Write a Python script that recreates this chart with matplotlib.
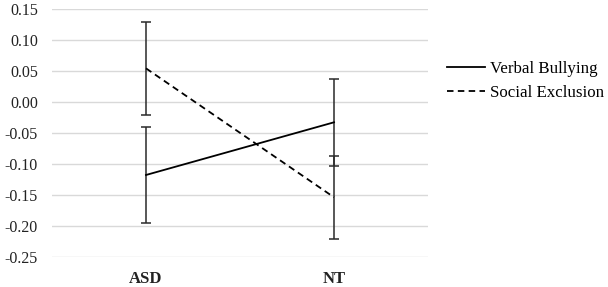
import numpy as np
from matplotlib import pyplot as plt
from matplotlib.lines import Line2D

# data
groups = ["ASD", "NT"]
verbal_bullying = np.array([-0.117, -0.032])
verbal_err = np.array([0.077, 0.070])
social_exclusion = np.array([0.055, -0.153])
social_err = np.array([0.075, 0.067])
yticks = np.round(np.arange(-0.25, 0.151, 0.05), 2)

plt.rcParams['font.family'] = ['Liberation Serif', 'DejaVu Serif']

fig = plt.figure(figsize=(6.08, 2.87), dpi=100)
ax = fig.add_axes([0.0855, 0.103, 0.6185, 0.864])

dash = (0, (3.6, 2.4))
x = np.arange(len(groups))
ax.errorbar(x, verbal_bullying, yerr=verbal_err, color='black', lw=1.3,
            ecolor='#2a2a2a', elinewidth=1.1, capsize=3.5, capthick=1.1,
            zorder=3)
ax.errorbar(x, social_exclusion, yerr=social_err, color='black', lw=1.3,
            ls=dash, ecolor='#2a2a2a', elinewidth=1.1, capsize=3.5,
            capthick=1.1, zorder=3)

ax.set_xlim(-0.5, 1.5)
ax.set_ylim(-0.25, 0.15)
ax.set_yticks(yticks)
ax.set_yticklabels([f"{v:.2f}".replace("-0.00", "0.00") for v in yticks],
                   fontsize=11.5, color='#222222')
ax.set_xticks(x)
ax.set_xticklabels(groups, fontsize=12, fontweight='bold', color='#222222')
ax.tick_params(axis='x', length=0, pad=10)
ax.tick_params(axis='y', length=0, pad=10)
ax.grid(axis='y', color='#d9d9d9', lw=1)
ax.set_axisbelow(True)
for s in ax.spines.values():
    s.set_visible(False)

handles = [Line2D([], [], color='black', lw=1.3),
           Line2D([], [], color='black', lw=1.3, ls=dash)]
fig.legend(handles, ['Verbal Bullying', 'Social Exclusion'],
           loc='center left', bbox_to_anchor=(447 / 608, 1 - 81 / 287),
           frameon=False, fontsize=12.2, handlelength=2.25, labelspacing=0.5,
           handletextpad=0.3, borderpad=0, borderaxespad=0)

fig.savefig("out.png", dpi=100)
